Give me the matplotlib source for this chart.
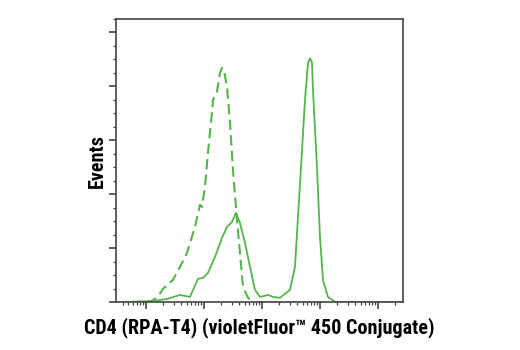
import matplotlib
matplotlib.use("Agg")
import matplotlib.pyplot as plt
from matplotlib.ticker import MultipleLocator, LogLocator, NullFormatter

# isotype control (dashed)
ctrl_x = [30, 117, 161, 196, 292, 386, 509, 700, 853, 924, 1040, 1172, 1373, 1430,
          1675, 1888, 2043, 2213, 2494, 2808, 3162, 3706, 4178, 4702, 5741, 7000,
          8533, 2.7e6]
ctrl_y = [0, 0.5, 5.1, 12.5, 20.8, 32.9, 45.8, 69.9, 90.3, 88.4, 107, 138.4, 175.5,
          187.5, 194.9, 212.5, 217.1, 215.3, 199.5, 166.7, 122.7, 76.4, 45.8, 14.4,
          4.2, 0.5, 0, 0]

# CD4 stained (solid)
cd4_x = [30, 132, 230, 386, 470, 574, 789, 961, 1172, 1549, 2043, 2494, 3041, 3565,
         4178, 5093, 6213, 7568, 9250, 12680, 15480, 20420, 30400, 37070, 41780,
         48980, 55100, 62100, 67300, 72800, 75700, 88700, 100000, 112700, 137400,
         181600, 2.7e6]
cd4_y = [0, 1.4, 3.2, 6.9, 6.0, 5.1, 21.8, 22.7, 27.3, 42.1, 59.7, 69.9, 74.5, 82.9,
         73.6, 55.1, 32.9, 11.6, 5.1, 6.9, 5.1, 4.2, 11.6, 32.9, 79.2, 140.8, 187.1,
         221.4, 226.0, 222.3, 196.4, 125.5, 60.6, 20.8, 5.1, 0.5, 0]

green = "#55b54a"
spine = "#444444"
lab_font = dict(family="Roboto Condensed", weight="bold", size=14.5)

fig = plt.figure(figsize=(5.2, 3.5), dpi=100)
ax = fig.add_axes([0.223, 0.136, 0.552, 0.81])

ax.plot(ctrl_x, ctrl_y, color=green, lw=1.5, linestyle=(0, (5, 2.5)))
ax.plot(cd4_x, cd4_y, color=green, lw=1.3)

ax.set_xscale("log")
ax.set_xlim(10 ** 1.483, 10 ** 6.431)
ax.set_ylim(0, 262.5)

ax.xaxis.set_major_locator(LogLocator(base=10, numticks=12))
ax.xaxis.set_minor_locator(LogLocator(base=10, subs=range(2, 10), numticks=12))
ax.xaxis.set_major_formatter(NullFormatter())
ax.xaxis.set_minor_formatter(NullFormatter())
ax.yaxis.set_major_locator(MultipleLocator(50))
ax.yaxis.set_minor_locator(MultipleLocator(12.5))
ax.yaxis.set_major_formatter(NullFormatter())

ax.tick_params(which="major", length=5, width=1.2, color=spine, direction="out")
ax.tick_params(which="minor", length=2.5, width=0.9, color=spine, direction="out")
for s in ax.spines.values():
    s.set_color(spine)
    s.set_linewidth(1.2)

ax.set_xlabel("CD4 (RPA-T4) (violetFluor™ 450 Conjugate)", labelpad=2, **lab_font)
ax.set_ylabel("Events", labelpad=-2, **lab_font)

fig.savefig("out.png", dpi=100)
